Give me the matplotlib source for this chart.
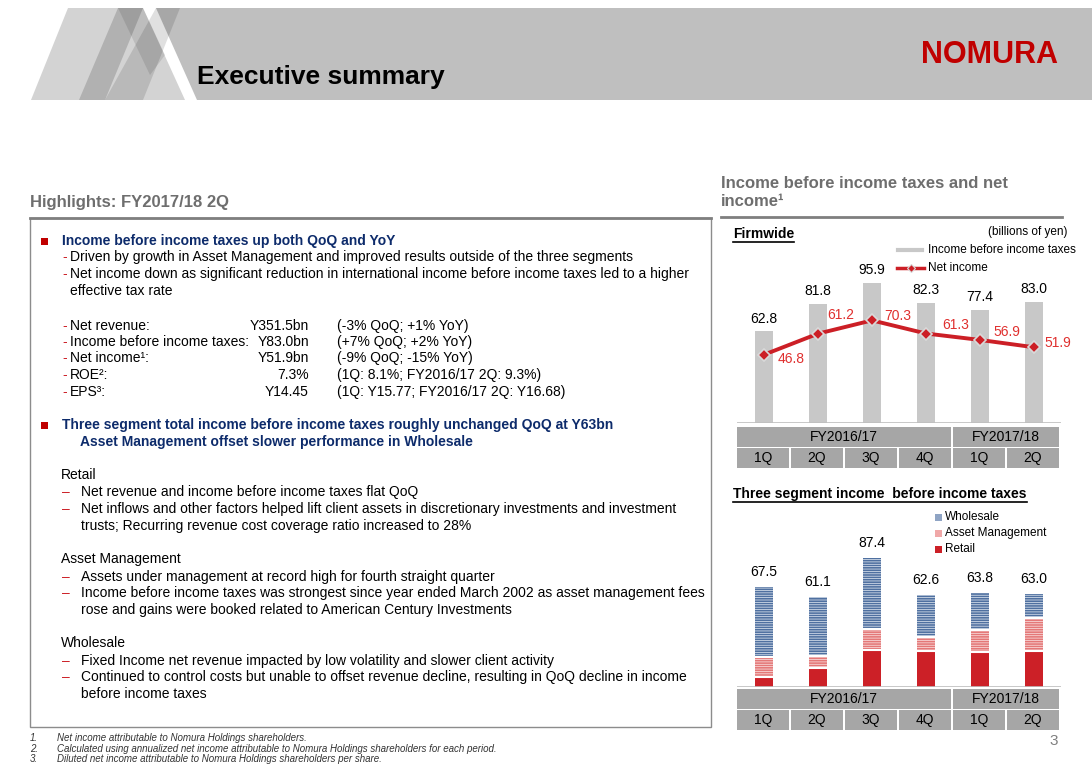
import numpy as np
import matplotlib
matplotlib.use("Agg")
import matplotlib.pyplot as plt
from matplotlib.patches import Polygon, Rectangle

plt.rcParams['font.family'] = ['Liberation Sans', 'DejaVu Sans']
plt.rcParams['hatch.linewidth'] = 1.2

W, H = 1092, 772

# ---------------------------
# DATA
# ---------------------------
quarters = ["1Q", "2Q", "3Q", "4Q", "1Q", "2Q"]
fiscal_years = ["FY2016/17", "FY2017/18"]
fy_span = [4, 2]

income_before_tax = [62.8, 81.8, 95.9, 82.3, 77.4, 83.0]
net_income = [46.8, 61.2, 70.3, 61.3, 56.9, 51.9]

retail = [7.0, 13.1, 24.9, 24.4, 23.8, 24.4]
asset_mgmt = [13.4, 7.9, 14.3, 9.5, 14.7, 22.2]
wholesale = [47.1, 40.1, 48.2, 28.7, 25.3, 16.4]

# label offsets for net income (pixels)
ni_offsets = [(27, -4), (23, 19), (26, 4), (30, 9), (27, 8), (24, 4)]

# ---------------------------
# COLOURS
# ---------------------------
RED = "#CC1F26"
NAVY = "#0D2B6B"
GRAY_TXT = "#6E6E6E"
CELL = "#A6A6A6"

fig = plt.figure(figsize=(W / 100, H / 100), dpi=100)
bg = fig.add_axes([0, 0, 1, 1])
bg.set_xlim(0, W)
bg.set_ylim(H, 0)
bg.axis("off")


def fax(x0, y0, x1, y1):
    ax = fig.add_axes([x0 / W, 1 - y1 / H, (x1 - x0) / W, (y1 - y0) / H])
    ax.patch.set_alpha(0)
    return ax


def txt(x, y, s, size=10, **kw):
    kw.setdefault("va", "center")
    kw.setdefault("ha", "left")
    return bg.text(x, y, s, fontsize=size, **kw)


def underline(t, color="black"):
    fig.canvas.draw()
    bb = t.get_window_extent(fig.canvas.get_renderer())
    yl = H - bb.y0 + 1
    bg.plot([bb.x0, bb.x1], [yl, yl], color=color, lw=1.2)


# ---------------------------
# HEADER
# ---------------------------
bg.add_patch(Polygon([(156, 8), (W, 8), (W, 100), (197, 100)], color="#BFBFBF", lw=0))
bg.add_patch(Polygon([(31, 100), (68, 8), (143, 8), (185, 100)], color="#D3D3D3", lw=0))
bg.add_patch(Polygon([(79, 100), (118, 8), (143, 8), (105, 100)], color="black", alpha=0.16, lw=0))
bg.add_patch(Polygon([(105, 100), (156, 8), (180, 8), (143, 100)], color="black", alpha=0.12, lw=0))
bg.add_patch(Polygon([(118, 8), (143, 8), (165, 55), (150, 75)], color="black", alpha=0.10, lw=0))
txt(197, 77, "Executive summary", size=19, weight="bold")
txt(1058, 55, "NOMURA", size=22, weight="bold", color="#C00000", ha="right")

# ---------------------------
# LEFT PANEL
# ---------------------------
txt(30, 202, "Highlights: FY2017/18 2Q", size=12, weight="bold", color=GRAY_TXT)
bg.add_patch(Rectangle((30, 218), 681, 509, fill=False, ec="#8C8C8C", lw=1))
bg.plot([30, 711], [218, 218], color="#7F7F7F", lw=2)

bg.add_patch(Rectangle((41, 237.5), 7, 7, color="#C00000", lw=0))
txt(62, 241, "Income before income taxes up both QoQ and YoY", weight="bold", color=NAVY)
for y, s in [(257, "Driven by growth in Asset Management and improved results outside of the three segments"),
             (274, "Net income down as significant reduction in international income before income taxes led to a higher")]:
    txt(62, y, "-", color=RED)
    txt(70, y, s)
txt(70, 291, "effective tax rate")

metric_labels = ["Net revenue:", "Income before income taxes:", "Net income\u00b9:", "ROE\u00b2:", "EPS\u00b3:"]
metric_values = ["Y351.5bn", "Y83.0bn", "Y51.9bn", "7.3%", "Y14.45"]
metric_notes = ["(-3% QoQ; +1% YoY)", "(+7% QoQ; +2% YoY)", "(-9% QoQ; -15% YoY)",
                "(1Q: 8.1%; FY2016/17 2Q: 9.3%)", "(1Q: Y15.77; FY2016/17 2Q: Y16.68)"]
for y, a, b, c in zip([326, 342, 358, 375, 392], metric_labels, metric_values, metric_notes):
    txt(62, y, "-", color=RED)
    txt(70, y, a)
    txt(309, y, b, ha="right")
    txt(337, y, c)

bg.add_patch(Rectangle((41, 421.5), 7, 7, color="#C00000", lw=0))
txt(62, 425, "Three segment total income before income taxes roughly unchanged QoQ at Y63bn", weight="bold", color=NAVY)
txt(80, 442, "Asset Management offset slower performance in Wholesale", weight="bold", color=NAVY)

sections = [
    (475, "Retail", [(492, "Net revenue and income before income taxes flat QoQ", True),
                     (509, "Net inflows and other factors helped lift client assets in discretionary investments and investment", True),
                     (526, "trusts; Recurring revenue cost coverage ratio increased to 28%", False)]),
    (559, "Asset Management", [(577, "Assets under management at record high for fourth straight quarter", True),
                               (593, "Income before income taxes was strongest since year ended March 2002 as asset management fees", True),
                               (610, "rose and gains were booked related to American Century Investments", False)]),
    (643, "Wholesale", [(661, "Fixed Income net revenue impacted by low volatility and slower client activity", True),
                        (677, "Continued to control costs but unable to offset revenue decline, resulting in QoQ decline in income", True),
                        (694, "before income taxes", False)]),
]
for y0, head, lines in sections:
    txt(61, y0, head)
    for y, s, dash in lines:
        if dash:
            txt(62, y, "\u2013", color=RED)
        txt(81, y, s)

notes = ["Net income attributable to Nomura Holdings shareholders.",
         "Calculated using annualized net income attributable to Nomura Holdings shareholders for each period.",
         "Diluted net income attributable to Nomura Holdings shareholders per share."]
for i, (y, s) in enumerate(zip([738, 749, 759], notes)):
    txt(30, y, f"{i + 1}.", size=7.0, style="italic", color="#333333")
    txt(57, y, s, size=7.0, style="italic", color="#333333")

txt(1058, 741, "3", size=11, color="#7F7F7F", ha="right")

# ---------------------------
# RIGHT PANEL HEADER
# ---------------------------
txt(721, 183, "Income before income taxes and net", size=12, weight="bold", color=GRAY_TXT)
txt(721, 202, "income\u00b9", size=12, weight="bold", color=GRAY_TXT)
bg.plot([721, 1062], [217, 217], color="#7F7F7F", lw=2)


def draw_table(y_top):
    x0, step = 737, 54
    start = 0
    for fy, span in zip(fiscal_years, fy_span):
        xa = x0 + start * step
        xb = x0 + (start + span) * step - 2
        bg.add_patch(Rectangle((xa, y_top), xb - xa, 20, color=CELL, lw=0))
        txt((xa + xb) / 2, y_top + 10, fy, ha="center")
        start += span
    for i, q in enumerate(quarters):
        xa = x0 + i * step
        bg.add_patch(Rectangle((xa, y_top + 21), step - 2, 20, color=CELL, lw=0))
        txt(xa + (step - 2) / 2, y_top + 31, q, ha="center")


# ---------------------------
# FIRMWIDE CHART
# ---------------------------
t = txt(733, 234, "Firmwide", weight="bold")
underline(t)
txt(1068, 232, "(billions of yen)", size=8.5, ha="right")
bg.plot([898, 922], [250, 250], color="#C8C8C8", lw=3)
txt(928, 250, "Income before income taxes", size=8.5)
bg.plot([897, 924], [268, 268], color=RED, lw=2.5)
bg.plot([910.5], [268], marker="D", ms=4, color=RED, mec="#D9D9D9", mew=0.8)
txt(928, 268, "Net income", size=8.5)

ax1 = fax(737, 223, 1061, 423)
x = np.arange(len(quarters))
bars = ax1.bar(x, income_before_tax, width=0.34, color="#C8C8C8")
ax1.bar_label(bars, labels=[f"{v:.1f}" for v in income_before_tax], padding=4, fontsize=10)
ax1.plot(x, net_income, color=RED, lw=2.8, marker="D", ms=6.5, mfc=RED, mec="#D9D9D9", mew=1.2, zorder=3)
for xi, v, (dx, dy) in zip(x, net_income, ni_offsets):
    ax1.annotate(f"{v:.1f}", (xi, v), xytext=(dx, dy), textcoords="offset pixels",
                 ha="center", va="center", color="#E0302F", fontsize=10)
ax1.set_xlim(-0.5, 5.5)
ax1.set_ylim(0, 137)
ax1.axhline(0, color="#BFBFBF", lw=1.2)
ax1.axis("off")
draw_table(427)

# ---------------------------
# THREE SEGMENT CHART
# ---------------------------
t = txt(733, 494, "Three segment income  before income taxes", weight="bold")
underline(t)
leg = [("Wholesale", "#8FA4C4"), ("Asset Management", "#F0A8A8"), ("Retail", "#CC2027")]
for y, (lab, col) in zip([517, 533, 549], leg):
    bg.add_patch(Rectangle((935, y - 3.5), 7, 7, color=col, lw=0))
    txt(945, y, lab, size=8.5)

ax2 = fax(737, 527, 1061, 687)
r = np.array(retail)
a = np.array(asset_mgmt)
w = np.array(wholesale)
bw = 0.34
ax2.bar(x, r, width=bw, color="#CC2027", lw=0)
ax2.bar(x, a, bottom=r, width=bw, facecolor="#FBE6E6", edgecolor="#E47878", hatch="-" * 7, lw=0)
ax2.bar(x, w, bottom=r + a, width=bw, facecolor="#E6ECF4", edgecolor="#4F70A0", hatch="-" * 7, lw=0)
ax2.hlines(r, x - bw / 2, x + bw / 2, color="white", lw=1.5)
ax2.hlines(r + a, x - bw / 2, x + bw / 2, color="white", lw=1.5)
tot = r + a + w
for xi, v in zip(x, tot):
    ax2.annotate(f"{v:.1f}", (xi, v), xytext=(0, 15), textcoords="offset pixels",
                 ha="center", va="center", fontsize=10)
ax2.set_xlim(-0.5, 5.5)
ax2.set_ylim(0, 108.3)
ax2.axhline(0, color="#BFBFBF", lw=1.2)
ax2.axis("off")
draw_table(689)

fig.savefig("out.png", dpi=100)
